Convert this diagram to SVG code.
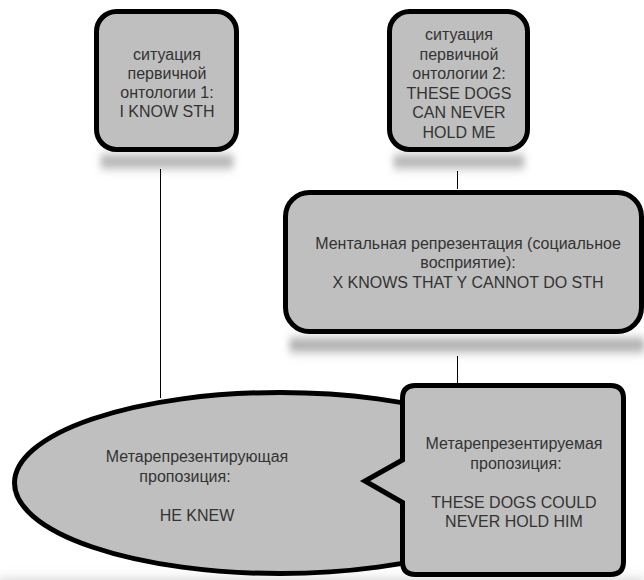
<svg xmlns="http://www.w3.org/2000/svg" width="644" height="580" viewBox="0 0 644 580">
<defs>
<filter id="blur" filterUnits="userSpaceOnUse" x="-50" y="-50" width="750" height="700"><feGaussianBlur stdDeviation="3.5 6"/></filter>
<style>
.node{fill:#bfbfbf;stroke:#000;stroke-width:5;stroke-linejoin:miter}
.shadow{fill:#8c8c8c;filter:url(#blur)}
.t{font-family:"Liberation Sans",Arial,sans-serif;font-size:16px;fill:#333;text-anchor:middle}
.conn{stroke:#000;stroke-width:1;fill:none}
</style>
</defs>
<rect width="644" height="580" fill="#fff"/>
<g id="shadows">
<rect class="shadow" x="100" y="157" width="134" height="9" rx="4"/>
<rect class="shadow" x="393" y="157" width="132" height="9" rx="4"/>
<rect class="shadow" x="289" y="340" width="356" height="10" rx="4"/>
<rect x="0" y="580" width="644" height="8" fill="#c8c8c8" filter="url(#blur)"/>
</g>
<g id="connectors">
<line class="conn" x1="160.5" y1="169" x2="160.5" y2="398"/>
<line class="conn" x1="457.5" y1="171" x2="457.5" y2="189"/>
<line class="conn" x1="457.5" y1="356" x2="457.5" y2="383"/>
</g>
<g id="node-situation1">
<rect class="node" x="96.5" y="11.5" width="140" height="138" rx="20"/>
<text class="t" x="167" y="59.5">ситуация</text>
<text class="t" x="167" y="78.8">первичной</text>
<text class="t" x="167" y="98.1">онтологии 1:</text>
<text class="t" x="167" y="117.4">I KNOW STH</text>
</g>
<g id="node-situation2">
<rect class="node" x="389.5" y="11.5" width="138" height="138" rx="20"/>
<text class="t" x="459" y="40">ситуация</text>
<text class="t" x="459" y="59.6">первичной</text>
<text class="t" x="459" y="79.2">онтологии 2:</text>
<text class="t" x="459" y="98.8">THESE DOGS</text>
<text class="t" x="459" y="118.4">CAN NEVER</text>
<text class="t" x="459" y="138">HOLD ME</text>
</g>
<g id="node-mental">
<rect class="node" x="285.5" y="192.5" width="356" height="139" rx="24"/>
<text class="t" x="468" y="248.5">Ментальная репрезентация (социальное</text>
<text class="t" x="468" y="268.3">восприятие):</text>
<text class="t" x="468" y="288">X KNOWS THAT Y CANNOT DO STH</text>
</g>
<g id="node-metarepresenting">
<ellipse class="node" cx="280" cy="483" rx="265.5" ry="90.5"/>
<text class="t" x="197" y="462">Метарепрезентирующая</text>
<text class="t" x="185" y="482">пропозиция:</text>
<text class="t" x="197" y="521">HE KNEW</text>
</g>
<g id="node-metarepresented">
<path class="node" d="M415.5,385.5 H610.5 Q623.5,385.5 623.5,398.5 V561.5 Q623.5,574.5 610.5,574.5 H415.5 Q402.5,574.5 402.5,561.5 V502.5 L365,481 L402.5,460 V398.5 Q402.5,385.5 415.5,385.5 Z"/>
<text class="t" x="514" y="449.3">Метарепрезентируемая</text>
<text class="t" x="516" y="469">пропозиция:</text>
<text class="t" x="514" y="508">THESE DOGS COULD</text>
<text class="t" x="514" y="527.3">NEVER HOLD HIM</text>
</g>
</svg>
